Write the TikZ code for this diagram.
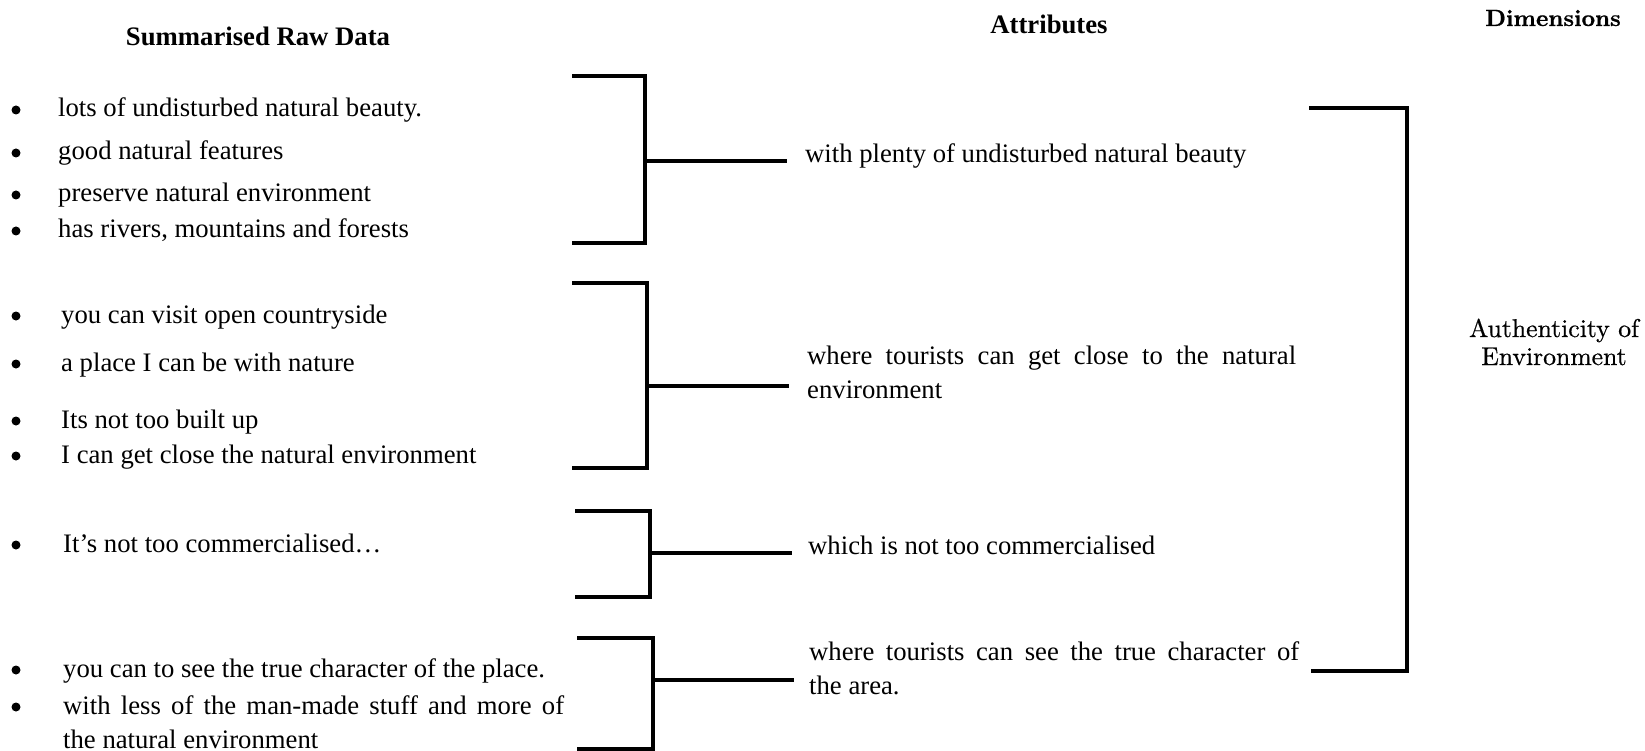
\documentclass[tikz,border=0pt]{standalone}
\usepackage{fontspec}
\newfontfamily\tnr{Liberation Serif}
\newfontfamily\dimfont{lmroman10-regular.otf}[BoldFont=lmroman10-bold.otf,
  UprightFeatures={FakeBold=0.6}, BoldFeatures={FakeBold=0.8}]
\begin{document}
\begin{tikzpicture}[x=1pt,y=-1pt,
  rawtext/.style={anchor=base west, inner sep=0pt, font=\tnr\fontsize{26.7}{34}\selectfont},
  wraptext/.style={rawtext, align=justify, text width=#1},
  heading/.style={anchor=base, inner sep=0pt, font=\tnr\bfseries\fontsize{26.7}{34}\selectfont},
  dimhead/.style={anchor=base, inner sep=0pt, font=\dimfont\bfseries\fontsize{23.5}{28}\selectfont},
  dimtext/.style={anchor=base, inner sep=0pt, align=center, font=\dimfont\fontsize{25.7}{28}\selectfont},
  bulletdot/.style={circle, fill=black, draw=none, inner sep=0pt, minimum size=9pt},
  bracketline/.style={line width=3.6pt, line join=miter, draw=black}]
\useasboundingbox (0,0) rectangle (1645,751);
\tolerance=10000

% column headings
\node[heading] (hraw) at (258,46) {Summarised Raw Data};
\node[heading] (hattr) at (1049,34) {Attributes};
\node[dimhead] (hdim) at (1553,26) {Dimensions};

% summarised raw data, group 1
\node[bulletdot] (d11) at (16,110) {};
\node[rawtext] (r11) at (58,117) {lots of undisturbed natural beauty.};
\node[bulletdot] (d12) at (16,153) {};
\node[rawtext] (r12) at (58,160) {good natural features};
\node[bulletdot] (d13) at (16,195) {};
\node[rawtext] (r13) at (58,202) {preserve natural environment};
\node[bulletdot] (d14) at (16,231) {};
\node[rawtext] (r14) at (58,238) {has rivers, mountains and forests};

% group 2
\node[bulletdot] (d21) at (16,316) {};
\node[rawtext] (r21) at (61,323) {you can visit open countryside};
\node[bulletdot] (d22) at (16,364) {};
\node[rawtext] (r22) at (61,371) {a place I can be with nature};
\node[bulletdot] (d23) at (16,421) {};
\node[rawtext] (r23) at (61,428) {Its not too built up};
\node[bulletdot] (d24) at (16,456) {};
\node[rawtext] (r24) at (61,463) {I can get close the natural environment};

% group 3
\node[bulletdot] (d31) at (16,545) {};
\node[rawtext] (r31) at (63,552) {It’s not too commercialised…};

% group 4
\node[bulletdot] (d41) at (16,670) {};
\node[rawtext] (r41) at (63,677) {you can to see the true character of the place.};
\node[bulletdot] (d42) at (16,707) {};
\node[wraptext=501pt] (r42) at (63,714) {with less of the man-made stuff and more of\linebreak the natural environment};

% attributes
\node[rawtext] (a1) at (805,163) {with plenty of undisturbed natural beauty};
\node[wraptext=489pt] (a2) at (807,364) {where tourists can get close to the natural\linebreak environment};
\node[rawtext] (a3) at (808,554) {which is not too commercialised};
\node[wraptext=490pt] (a4) at (809,660) {where tourists can see the true character of\linebreak the area.};

% dimension (base anchor sits on the last line)
\node[dimtext] (dim) at (1554,365) {Authenticity of\\Environment};

% bracket corners and stem ends
\coordinate (b1a) at (572,76);  \coordinate (b1b) at (645,76);
\coordinate (b1c) at (645,243); \coordinate (b1d) at (572,243);
\coordinate (b1m) at (645,161); \coordinate (s1) at (787,161);

\coordinate (b2a) at (572,283); \coordinate (b2b) at (647,283);
\coordinate (b2c) at (647,468); \coordinate (b2d) at (572,468);
\coordinate (b2m) at (647,386); \coordinate (s2) at (789,386);

\coordinate (b3a) at (575,511); \coordinate (b3b) at (650,511);
\coordinate (b3c) at (650,597); \coordinate (b3d) at (575,597);
\coordinate (b3m) at (650,553); \coordinate (s3) at (792,553);

\coordinate (b4a) at (577,638); \coordinate (b4b) at (653,638);
\coordinate (b4c) at (653,749); \coordinate (b4d) at (577,749);
\coordinate (b4m) at (653,680); \coordinate (s4) at (794,680);

\coordinate (b5a) at (1309,108); \coordinate (b5b) at (1407,108);
\coordinate (b5c) at (1407,671); \coordinate (b5d) at (1311,671);

% brackets grouping the raw data into attributes
\draw[bracketline] (b1a) -- (b1b) -- (b1c) -- (b1d);
\draw[bracketline] (b1m) -- (s1);
\draw[bracketline] (b2a) -- (b2b) -- (b2c) -- (b2d);
\draw[bracketline] (b2m) -- (s2);
\draw[bracketline] (b3a) -- (b3b) -- (b3c) -- (b3d);
\draw[bracketline] (b3m) -- (s3);
\draw[bracketline] (b4a) -- (b4b) -- (b4c) -- (b4d);
\draw[bracketline] (b4m) -- (s4);

% bracket grouping the attributes into the dimension
\draw[bracketline] (b5a) -- (b5b) -- (b5c) -- (b5d);
\end{tikzpicture}
\end{document}
